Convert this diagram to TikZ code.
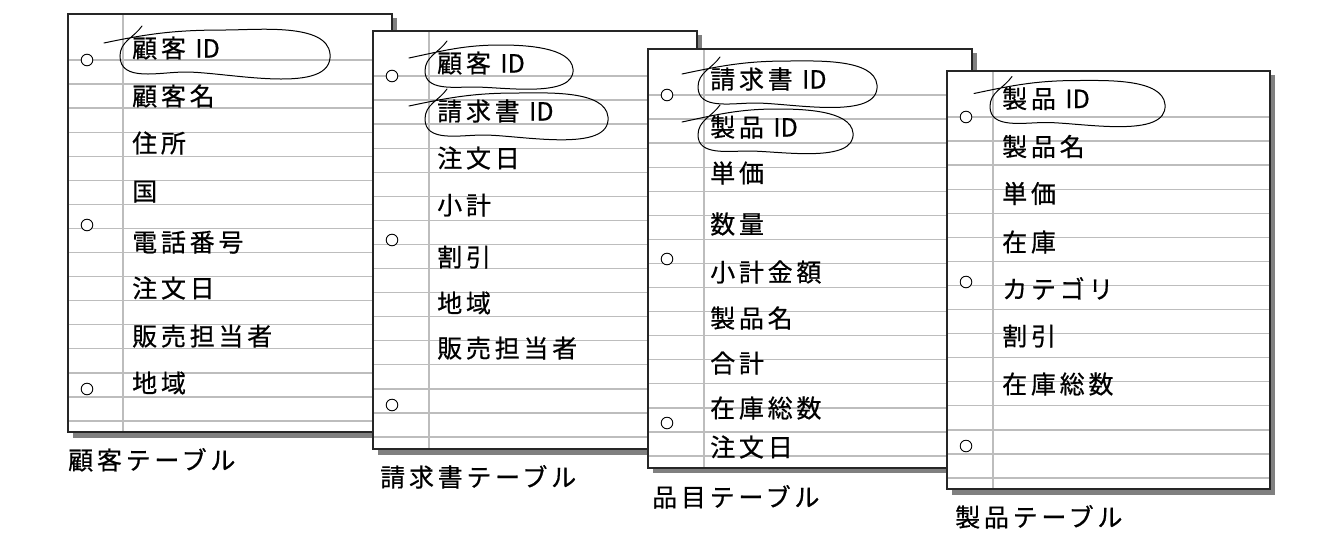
\documentclass[tikz,border=0pt]{standalone}
\usepackage{fontspec}
\newfontfamily\jpfont[LetterSpace=15, FakeBold=0.6]{Noto Sans CJK JP}
\newfontfamily\idfont[FakeBold=0.6]{Noto Sans CJK JP}
\usepackage{tikz}
\usetikzlibrary{calc}
\definecolor{ruleGray}{gray}{0.74}
\definecolor{shadowGray}{gray}{0.5}
\definecolor{edgeGray}{gray}{0.15}
\tikzset{
  % Stile per il foglio
  sheet shadow/.style={fill=shadowGray},
  paper edge/.style={draw=edgeGray, line width=1.1pt},
  rule line/.style={draw=ruleGray, line width=1.3pt},
  margin line/.style={draw=ruleGray, line width=1.3pt},
  punch hole/.style={draw=black, fill=white, line width=0.9pt},
  % Stile per i campi e le didascalie
  field text/.style={anchor=west, inner sep=0pt,
    font=\jpfont\fontsize{25}{25}\selectfont,
    text height=20.75pt, text depth=1.75pt},
  sheet caption/.style={field text},
  % Stile per il cerchio a mano della chiave
  key loop/.style={draw=black, line width=1pt, line cap=round}
}
% #1 = nodo, #2 = larghezza del cerchio
\newcommand{\keyloop}[2]{%
  \coordinate (kl-r) at ($(#1.west)+(#2,-6)$);
  \draw[key loop] ($(#1.west)+(-28,5)$)
    to[out=12,in=180] ($(#1.west)!0.47!(#1.west -| kl-r)+(0,18)$)
    to[out=0,in=95,looseness=0.75] (kl-r)
    to[out=-85,in=0,looseness=0.75] ($(#1.west)!0.27!(#1.west -| kl-r)+(0,-24)$)
    to[out=180,in=-90] ($(#1.west)+(-12,-8)$)
    to[out=90,in=235] ($(#1.west)+(10,22)$);
}
\newcommand{\idtxt}{{\idfont ID}}
\begin{document}
\begin{tikzpicture}[x=1pt, y=1pt]
  \useasboundingbox (0,0) rectangle (1342,-542);

  % Foglio 1
  \begin{scope}[shift={(68,-14)}]
    \fill[sheet shadow] (5,-4) rectangle (329,-424);
    \fill[white] (0,0) rectangle (324,-418);
    \foreach \k in {0,...,15}
      \draw[rule line] (0,{-46-24.07*\k}) -- (324,{-46-24.07*\k});
    \draw[margin line] (55,0) -- (55,-418);
    \foreach \h in {46,211,375}
      \draw[punch hole] (19,-\h) circle (5.8pt);
    \draw[paper edge] (0,0) rectangle (324,-418);

    \node[field text] (c1) at (64,-34) {顧客 \idtxt};
    \node[field text] (c2) at (64,-82) {顧客名};
    \node[field text] (c3) at (64,-129) {住所};
    \node[field text] (c4) at (64,-177) {国};
    \node[field text] (c5) at (64,-228) {電話番号};
    \node[field text] (c6) at (64,-274) {注文日};
    \node[field text] (c7) at (64,-322) {販売担当者};
    \node[field text] (c8) at (64,-369) {地域};
    \keyloop{c1}{198}

    \node[sheet caption] (c-cap) at (0,-446) {顧客テーブル};
  \end{scope}

  % Foglio 2
  \begin{scope}[shift={(373,-31)}]
    \fill[sheet shadow] (5,-4) rectangle (329,-424);
    \fill[white] (0,0) rectangle (324,-418);
    \foreach \k in {0,...,15}
      \draw[rule line] (0,{-45-24.07*\k}) -- (324,{-45-24.07*\k});
    \draw[margin line] (56,0) -- (56,-418);
    \foreach \h in {45,209,374}
      \draw[punch hole] (19,-\h) circle (5.8pt);
    \draw[paper edge] (0,0) rectangle (324,-418);

    \node[field text] (f1) at (64,-32) {顧客 \idtxt};
    \node[field text] (f2) at (64,-80) {請求書 \idtxt};
    \node[field text] (f3) at (64,-127) {注文日};
    \node[field text] (f4) at (64,-174) {小計};
    \node[field text] (f5) at (64,-226) {割引};
    \node[field text] (f6) at (64,-272) {地域};
    \node[field text] (f7) at (64,-317) {販売担当者};
    \keyloop{f1}{136}
    \keyloop{f2}{171}

    \node[sheet caption] (f-cap) at (7,-446) {請求書テーブル};
  \end{scope}

  % Foglio 3
  \begin{scope}[shift={(648,-49)}]
    \fill[sheet shadow] (5,-4) rectangle (329,-424);
    \fill[white] (0,0) rectangle (324,-419);
    \foreach \k in {0,...,15}
      \draw[rule line] (0,{-46-24.07*\k}) -- (324,{-46-24.07*\k});
    \draw[margin line] (56,0) -- (56,-419);
    \foreach \h in {46,210,374}
      \draw[punch hole] (19,-\h) circle (5.8pt);
    \draw[paper edge] (0,0) rectangle (324,-419);

    \node[field text] (i1) at (62,-30) {請求書 \idtxt};
    \node[field text] (i2) at (62,-78) {製品 \idtxt};
    \node[field text] (i3) at (62,-124) {単価};
    \node[field text] (i4) at (62,-175) {数量};
    \node[field text] (i5) at (62,-223) {小計金額};
    \node[field text] (i6) at (62,-269) {製品名};
    \node[field text] (i7) at (62,-314) {合計};
    \node[field text] (i8) at (62,-359) {在庫総数};
    \node[field text] (i9) at (62,-398) {注文日};
    \keyloop{i1}{167}
    \keyloop{i2}{143}

    \node[sheet caption] (i-cap) at (4,-448) {品目テーブル};
  \end{scope}

  % Foglio 4
  \begin{scope}[shift={(947,-71)}]
    \fill[sheet shadow] (5,-4) rectangle (328,-424);
    \fill[white] (0,0) rectangle (323,-418);
    \foreach \k in {0,...,15}
      \draw[rule line] (0,{-46-24.07*\k}) -- (323,{-46-24.07*\k});
    \draw[margin line] (46,0) -- (46,-418);
    \foreach \h in {46,211,375}
      \draw[punch hole] (19,-\h) circle (5.8pt);
    \draw[paper edge] (0,0) rectangle (323,-418);

    \node[field text] (p1) at (55,-27.5) {製品 \idtxt};
    \node[field text] (p2) at (55,-75.5) {製品名};
    \node[field text] (p3) at (55,-122.5) {単価};
    \node[field text] (p4) at (55,-171) {在庫};
    \node[field text] (p5) at (55,-218) {カテゴリ};
    \node[field text] (p6) at (55,-265) {割引};
    \node[field text] (p7) at (55,-313) {在庫総数};
    \keyloop{p1}{163}

    \node[sheet caption] (p-cap) at (8,-446) {製品テーブル};
  \end{scope}
\end{tikzpicture}
\end{document}
